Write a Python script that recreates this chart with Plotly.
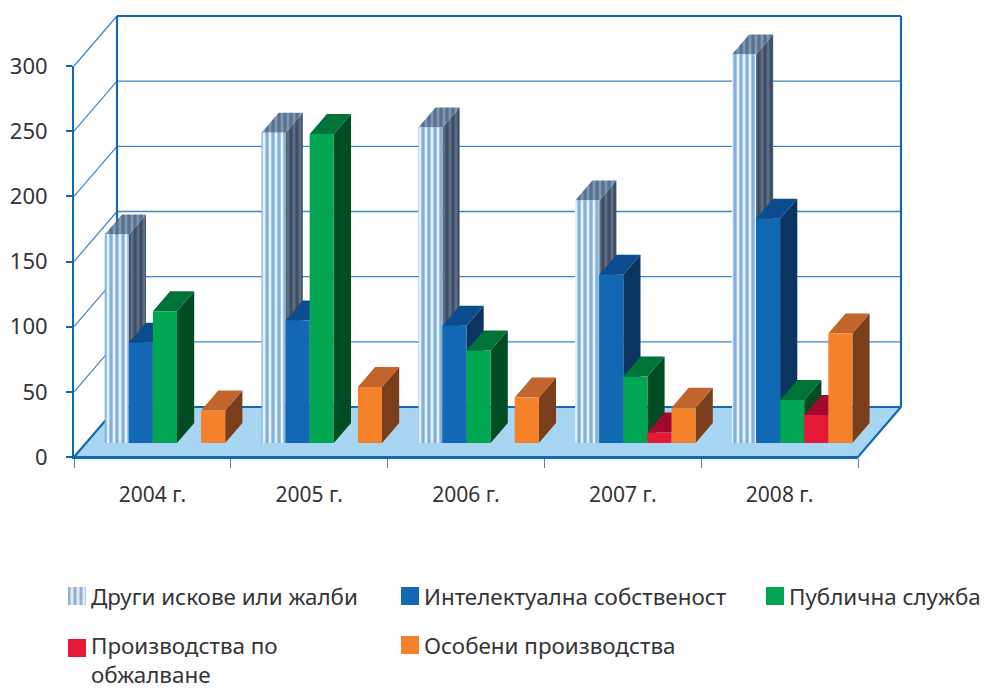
import plotly.graph_objects as go

# ---- data ----
years = ["2004 г.", "2005 г.", "2006 г.", "2007 г.", "2008 г."]
other = [160, 238, 242, 186, 298]
ip = [77, 94, 90, 129, 172]
public = [101, 237, 71, 51, 33]
appeals = [0, 0, 0, 8, 21.5]
special = [25, 43, 35, 27, 84]
y_ticks = [0, 50, 100, 150, 200, 250, 300]

names = ["Други искове или жалби", "Интелектуална собственост", "Публична служба",
         "Производства по<br>обжалване", "Особени производства"]

# ---- geometry of the oblique projection ----
W, H = 984, 690
X0, X1, Y0, Y300 = 74, 858, 457, 66
px_per_cat = (X1 - X0) / len(years)
px_per_val = (Y0 - Y300) / 300
xd = lambda p: (p - X0) / px_per_cat
yd = lambda p: (Y0 - p) / px_per_val
DX, DY = 43 / px_per_cat, 50 / px_per_val   # full floor depth in axis units
BASE_DEPTH, BAR_DEPTH = 0.28, 0.40
BAR_W = 24.1 / px_per_cat
START = 0.119

BLUE = "#1268b3"
LINE2 = "#3f86c6"
TEXT = "#333436"
FONT = "Noto Sans"


def proj(x, v, d):
    return x + d * DX, v + d * DY


fig = go.Figure()


def poly(xs, ys, color=None, pattern=None):
    t = dict(x=xs, y=ys, xaxis="x2", yaxis="y2", mode="lines", fill="toself", line=dict(width=0),
             hoverinfo="skip", showlegend=False)
    if pattern:
        t["fillpattern"] = pattern
        t["fillcolor"] = pattern["bgcolor"]
    else:
        t["fillcolor"] = color
    fig.add_trace(go.Scatter(**t))


def line(xs, ys, w=1.3, color=LINE2):
    fig.add_trace(go.Scatter(x=xs, y=ys, xaxis="x2", yaxis="y2", mode="lines",
                             line=dict(color=color, width=w),
                             hoverinfo="skip", showlegend=False))


# invisible trace so the visible axes exist
fig.add_trace(go.Scatter(x=[0, len(years)], y=[0, 300], mode="none", hoverinfo="skip", showlegend=False))

# floor
n = len(years)
fx = [proj(0, 0, 0)[0], proj(n, 0, 0)[0], proj(n, 0, 1)[0], proj(0, 0, 1)[0], proj(0, 0, 0)[0]]
fy = [proj(0, 0, 0)[1], proj(n, 0, 0)[1], proj(n, 0, 1)[1], proj(0, 0, 1)[1], proj(0, 0, 0)[1]]
poly(fx, fy, "#a8d5f2")

# walls and grid
for t in y_ticks[1:]:
    bx, by = proj(0, t, 1)
    line([0, bx], [t, by], 1.2)
    ex, ey = proj(n, t, 1)
    line([bx, ex], [by, ey], 1.3 if t < 300 else 2.2, BLUE if t == 300 else LINE2)
bx0, by0 = proj(0, 0, 1)
bx1, by1 = proj(0, 300, 1)
line([bx0, bx1], [by0, by1], 2.2, BLUE)
ex0, ey0 = proj(n, 0, 1)
ex1, ey1 = proj(n, 300, 1)
line([ex0, ex1], [ey0, ey1], 2.2, BLUE)
line(fx, fy, 2.2, BLUE)

# bars
styles = [
    (other, dict(shape="|", bgcolor="#e6f2fb", fgcolor="#1f6fbb", size=6, solidity=0.55),
     dict(shape="|", bgcolor="#5f6e83", fgcolor="#1b304c", size=6, solidity=0.55),
     dict(shape="|", bgcolor="#8496ac", fgcolor="#254e80", size=6, solidity=0.55)),
    (ip, BLUE, "#0b3560", "#0b4c8e"),
    (public, "#00a651", "#004d25", "#007338"),
    (appeals, "#e31937", "#7d1522", "#a00a2c"),
    (special, "#f5822a", "#7a3e1a", "#c1652c"),
]

for s, (vals, front, side, top) in enumerate(styles):
    fr_x, fr_y, si_x, si_y, to_x, to_y = [], [], [], [], [], []
    for c, v in enumerate(vals):
        if not v:
            continue
        x0 = c + START + s * BAR_W
        x1 = x0 + BAR_W
        a = proj(x0, 0, BASE_DEPTH)
        b = proj(x1, 0, BASE_DEPTH)
        e = proj(x1, 0, BASE_DEPTH + BAR_DEPTH)
        at = proj(x0, v, BASE_DEPTH)
        bt = proj(x1, v, BASE_DEPTH)
        et = proj(x1, v, BASE_DEPTH + BAR_DEPTH)
        dt = proj(x0, v, BASE_DEPTH + BAR_DEPTH)
        for xs, ys, pts in ((fr_x, fr_y, [a, b, bt, at]), (si_x, si_y, [b, e, et, bt]), (to_x, to_y, [at, bt, et, dt])):
            xs += [p[0] for p in pts] + [pts[0][0], None]
            ys += [p[1] for p in pts] + [pts[0][1], None]
    for xs, ys, st in ((si_x, si_y, side), (to_x, to_y, top), (fr_x, fr_y, front)):
        if isinstance(st, dict):
            poly(xs, ys, pattern=st)
        else:
            poly(xs, ys, st)

# legend (swatch + text), placed in page pixels
legend_pos = [(68, 587), (401, 587), (766, 587), (68, 639), (401, 636)]
legend_text_lift = [7, 7, 7, 10, 7]
legend_swatch = [
    dict(pattern=dict(shape="|", bgcolor="#dcecf8", fgcolor="#4a6f9e", size=6, solidity=0.5)),
    dict(color=BLUE), dict(color="#00a651"), dict(color="#e31937"), dict(color="#f5822a"),
]
annotations = []
for (px, py), lift, sw, name in zip(legend_pos, legend_text_lift, legend_swatch, names):
    xs = [xd(px), xd(px + 18), xd(px + 18), xd(px), xd(px)]
    ys = [yd(py), yd(py), yd(py + 18), yd(py + 18), yd(py)]
    poly(xs, ys, **sw)
    annotations.append(dict(x=xd(px + 22), y=yd(py - lift), xref="x2", yref="y2", xanchor="left", yanchor="top",
                            text=name, showarrow=False, align="left", borderpad=0,
                            font=dict(family=FONT, size=22.4, color=TEXT)))

fig.update_layout(
    width=W, height=H, autosize=False,
    margin=dict(l=0, r=0, t=0, b=0, pad=0, autoexpand=False),
    paper_bgcolor="white", plot_bgcolor="rgba(0,0,0,0)",
    showlegend=False, annotations=annotations,
    xaxis=dict(domain=[X0 / W, X1 / W], range=[0, n], tickmode="array",
               tickvals=[i + 0.5 for i in range(n)], ticktext=years,
               ticks="", showgrid=False, zeroline=False, showline=True, linecolor=BLUE, linewidth=2,
               ticklabelstandoff=18, tickfont=dict(family=FONT, size=21, color=TEXT),
               minor=dict(ticks="outside", tickmode="array", tickvals=list(range(n + 1)), ticklen=9,
                          tickcolor=LINE2, tickwidth=1.3, showgrid=False)),
    yaxis=dict(domain=[1 - Y0 / H, 1 - Y300 / H], range=[0, 300], tickmode="array", tickvals=y_ticks,
               ticks="outside", ticklen=6,
               tickcolor=BLUE, tickwidth=1.5, showgrid=False, zeroline=False, showline=True,
               linecolor=BLUE, linewidth=2, ticklabelstandoff=14,
               tickfont=dict(family=FONT, size=22, color=TEXT)),
    xaxis2=dict(domain=[0, 1], range=[xd(0), xd(W)], visible=False, anchor="y2"),
    yaxis2=dict(domain=[0, 1], range=[yd(H), yd(0)], visible=False, anchor="x2"),
)

fig.write_html("out.html", config=dict(displayModeBar=False), post_script="document.body.style.margin='0';")
